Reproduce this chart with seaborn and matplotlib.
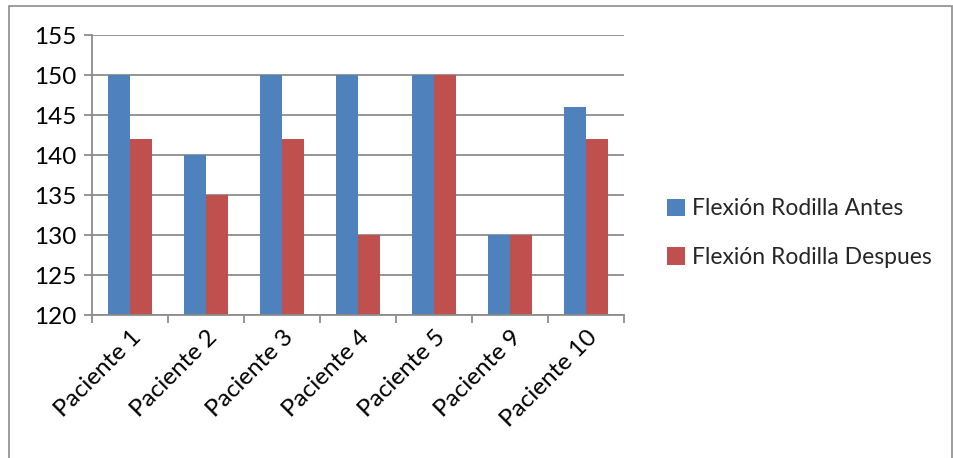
import matplotlib
matplotlib.use("Agg")
import matplotlib.pyplot as plt
import seaborn as sns
import pandas as pd
import numpy as np

categories = ["Paciente 1", "Paciente 2", "Paciente 3", "Paciente 4", "Paciente 5", "Paciente 9", "Paciente 10"]
antes = [150, 140, 150, 150, 150, 130, 146]
despues = [142, 135, 142, 130, 150, 130, 142]
series_names = ["Flexión Rodilla Antes", "Flexión Rodilla Despues"]
colors = ["#4F81BD", "#C0504D"]

df = pd.DataFrame({
    "Paciente": categories * 2,
    "Valor": antes + despues,
    "Serie": [series_names[0]] * len(categories) + [series_names[1]] * len(categories),
})

sns.set_theme(style="white")
plt.rcParams['font.family'] = ['Lato', 'DejaVu Sans']

fig = plt.figure(figsize=(9.54, 4.58), dpi=100)
ax = fig.add_axes([92/954, 1 - 315/458, (624-92)/954, (315-35)/458])

sns.barplot(data=df, x="Paciente", y="Valor", hue="Serie", palette=colors,
            width=0.57, ax=ax, saturation=1, edgecolor="none", legend=True)

ax.set_ylim(120, 155)
ax.set_xlim(-0.5, len(categories) - 0.5)
ax.set_yticks(np.arange(120, 156, 5))
ax.set_xlabel("")
ax.set_ylabel("")
ax.yaxis.grid(True, color="#8C8C8C", linewidth=1.3)
ax.set_axisbelow(True)
for s in ["top", "right"]:
    ax.spines[s].set_visible(False)
for s in ["left", "bottom"]:
    ax.spines[s].set_color("#8C8C8C")
    ax.spines[s].set_linewidth(1.3)

ax.tick_params(axis="y", which="major", left=True, length=6, width=1.3, color="#8C8C8C",
               labelsize=17.5, pad=5, labelcolor="black")
ax.tick_params(axis="x", which="major", bottom=False, length=0, labelsize=17.5, labelcolor="black", pad=8)
ax.set_xticks(np.arange(-0.5, len(categories), 1), minor=True)
ax.tick_params(axis="x", which="minor", bottom=True, length=6, width=1.3, color="#8C8C8C")
for lab in ax.get_xticklabels():
    lab.set_rotation(45)
    lab.set_ha("right")
    lab.set_va("top")
    lab.set_rotation_mode("anchor")

leg = ax.legend(title=None, frameon=False, loc="center left",
                bbox_to_anchor=(667/954, 1 - 233/458), bbox_transform=fig.transFigure,
                fontsize=16.5, handlelength=0.8, handleheight=0.8, labelspacing=1.2,
                handletextpad=0.3, borderpad=0, borderaxespad=0)

border = plt.Rectangle((9/954, -0.05), (952-9)/954, 1 - 6/458 + 0.05, transform=fig.transFigure,
                       fill=False, edgecolor="#8C8C8C", linewidth=1.2)
fig.patches.append(border)

fig.savefig("out.png", dpi=100)
